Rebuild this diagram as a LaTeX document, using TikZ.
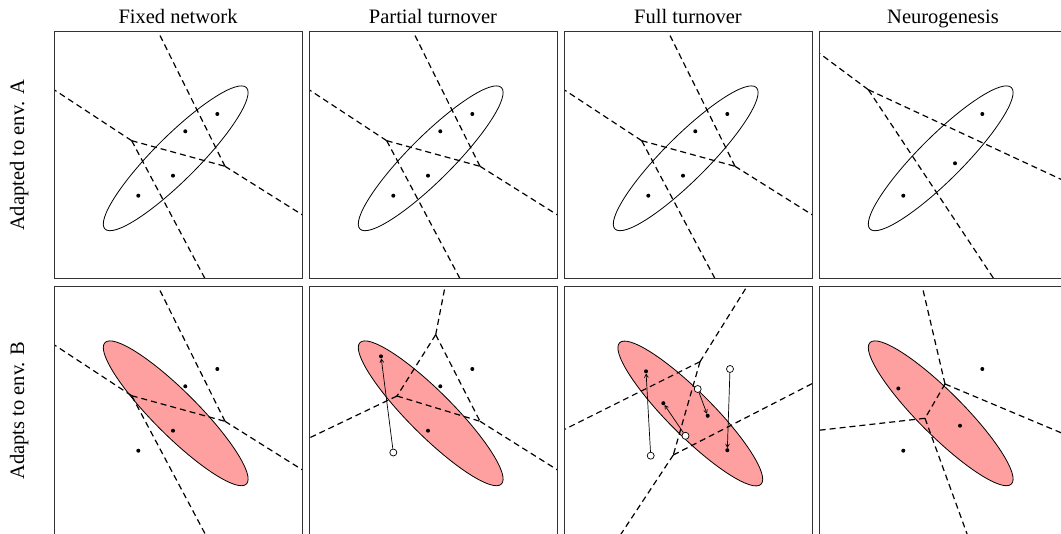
\documentclass[tikz,border=0pt]{standalone}
\usepackage{fontspec}
\setmainfont{Liberation Serif}
\usetikzlibrary{arrows.meta}
\definecolor{pinkfill}{RGB}{255,160,160}
\tikzset{
  frame/.style={draw=black!80, line width=1pt},
  vor/.style={draw=black, dash pattern=on 6pt off 4pt, line width=1.2pt},
  env/.style={draw=black, line width=0.8pt},
  envB/.style={draw=black, fill=pinkfill, line width=0.8pt},
  dot/.style={circle, fill=black, inner sep=0pt, minimum size=4pt},
  olddot/.style={circle, draw=black, fill=white, inner sep=0pt, minimum size=7pt, line width=0.7pt},
  move/.style={-{Straight Barb[length=3.4pt,width=3.8pt]}, line width=0.7pt},
  title/.style={font=\fontsize{20.5}{24}\selectfont, anchor=base, inner sep=0pt},
}
\begin{document}
\begin{tikzpicture}[x=1pt,y=-1pt]
\useasboundingbox (0,0) rectangle (1061,534);
\clip (0,0) rectangle (1061,534);

% titles
\node[title] (t1) at (178,23.3) {Fixed network};
\node[title] (t2) at (433,23.3) {Partial turnover};
\node[title] (t3) at (688,23.3) {Full turnover};
\node[title] (t4) at (943,23.3) {Neurogenesis};
\node[title, rotate=90] (l1) at (24,155.5) {Adapted to env. A};
\node[title, rotate=90] (l2) at (24,410.5) {Adapts to env. B};

% ---------- Row A, panels 1-3 (identical) ----------
\foreach \px/\nm in {54/a1,309/a2,564/a3}{
\begin{scope}[shift={(\px,32)}]
  \draw[env, rotate around={45:(121.7,126.3)}] (121.7,126.3) ellipse [x radius=100, y radius=22];
  \begin{scope}
    \clip (0,0) rectangle (248,247);
    \coordinate (\nm V1) at (171,134.3);
    \coordinate (\nm V2) at (77.7,108.7);
    \coordinate (\nm T) at (99.3,-10);
    \coordinate (\nm R) at (260,190.2);
    \coordinate (\nm L) at (-10,51.1);
    \coordinate (\nm B) at (158.1,260);
    \draw[vor] (\nm V1) -- (\nm T);
    \draw[vor] (\nm V1) -- (\nm R);
    \draw[vor] (\nm V2) -- (\nm L);
    \draw[vor] (\nm V2) -- (\nm B);
    \draw[vor] (\nm V2) -- (\nm V1);
  \end{scope}
  \node[dot] (\nm p1) at (163.3,82) {};
  \node[dot] (\nm p2) at (131.3,99.3) {};
  \node[dot] (\nm p3) at (119,143.7) {};
  \node[dot] (\nm p4) at (84.3,163.7) {};
  \draw[frame] (0,0) rectangle (248,247);
\end{scope}
}

% ---------- Row A, panel 4 ----------
\begin{scope}[shift={(819,32)}]
  \draw[env, rotate around={45:(121.7,126.3)}] (121.7,126.3) ellipse [x radius=100, y radius=22];
  \begin{scope}
    \clip (0,0) rectangle (248,247);
    \coordinate (a4W) at (49.3,57.7);
    \coordinate (a4L) at (-10,13.6);
    \coordinate (a4R) at (260,155.7);
    \coordinate (a4B) at (183.6,260);
    \draw[vor] (a4W) -- (a4L);
    \draw[vor] (a4W) -- (a4R);
    \draw[vor] (a4W) -- (a4B);
  \end{scope}
  \node[dot] (a4p1) at (163.3,82) {};
  \node[dot] (a4n) at (136,131.3) {};
  \node[dot] (a4p4) at (84.3,163.7) {};
  \draw[frame] (0,0) rectangle (248,247);
\end{scope}

% ---------- Row B, panel 1 ----------
\begin{scope}[shift={(54,287)}]
  \draw[envB, rotate around={-45:(121.7,126.3)}] (121.7,126.3) ellipse [x radius=100, y radius=22];
  \begin{scope}
    \clip (0,0) rectangle (248,247);
    \coordinate (b1V1) at (171,134.3);
    \coordinate (b1V2) at (77.7,108.7);
    \coordinate (b1T) at (99.3,-10);
    \coordinate (b1R) at (260,190.2);
    \coordinate (b1L) at (-10,51.1);
    \coordinate (b1B) at (158.1,260);
    \draw[vor] (b1V1) -- (b1T);
    \draw[vor] (b1V1) -- (b1R);
    \draw[vor] (b1V2) -- (b1L);
    \draw[vor] (b1V2) -- (b1B);
    \draw[vor] (b1V2) -- (b1V1);
  \end{scope}
  \node[dot] (b1p1) at (163.3,82) {};
  \node[dot] (b1p2) at (131.3,99.3) {};
  \node[dot] (b1p3) at (119,143.7) {};
  \node[dot] (b1p4) at (84.3,163.7) {};
  \draw[frame] (0,0) rectangle (248,248);
\end{scope}

% ---------- Row B, panel 2 ----------
\begin{scope}[shift={(309,287)}]
  \draw[envB, rotate around={-45:(121.7,126.3)}] (121.7,126.3) ellipse [x radius=100, y radius=22];
  \begin{scope}
    \clip (0,0) rectangle (248,247);
    \coordinate (b2Va) at (126.7,47.7);
    \coordinate (b2Vb) at (88,109);
    \coordinate (b2V1) at (171,134.3);
    \coordinate (b2T) at (137.9,-10);
    \coordinate (b2L) at (-10,155.9);
    \coordinate (b2R) at (260,190.2);
    \draw[vor] (b2Va) -- (b2T);
    \draw[vor] (b2Va) -- (b2V1);
    \draw[vor] (b2Va) -- (b2Vb);
    \draw[vor] (b2Vb) -- (b2V1);
    \draw[vor] (b2Vb) -- (b2L);
    \draw[vor] (b2V1) -- (b2R);
  \end{scope}
  \node[dot] (b2p1) at (163.3,82) {};
  \node[dot] (b2p2) at (131.3,99.3) {};
  \node[dot] (b2p3) at (119,143.7) {};
  \node[dot] (b2p4) at (72,69.3) {};
  \node[olddot] (b2o4) at (84.3,165.5) {};
  \draw[move] (b2o4) -- (b2p4);
  \draw[frame] (0,0) rectangle (248,248);
\end{scope}

% ---------- Row B, panel 3 ----------
\begin{scope}[shift={(564,287)}]
  \draw[envB, rotate around={-45:(126.3,126.5)}] (126.3,126.5) ellipse [x radius=100, y radius=22];
  \begin{scope}
    \clip (0,0) rectangle (248,247);
    \coordinate (b3Vc) at (136,74.7);
    \coordinate (b3Vd) at (109.3,168);
    \coordinate (b3T) at (188.9,-10);
    \coordinate (b3L) at (-10,147.7);
    \coordinate (b3R) at (260,90.5);
    \coordinate (b3B) at (48.4,260);
    \draw[vor] (b3Vc) -- (b3T);
    \draw[vor] (b3Vc) -- (b3L);
    \draw[vor] (b3Vc) -- (b3Vd);
    \draw[vor] (b3Vd) -- (b3R);
    \draw[vor] (b3Vd) -- (b3B);
  \end{scope}
  \node[dot] (b3pA) at (82,84.3) {};
  \node[dot] (b3pB) at (99.3,116.2) {};
  \node[dot] (b3pC) at (143.7,128.8) {};
  \node[dot] (b3pD) at (163.3,163.2) {};
  \node[olddot] (b3oA) at (86.7,168.7) {};
  \node[olddot] (b3oB) at (121.5,148.8) {};
  \node[olddot] (b3oC) at (133.7,102) {};
  \node[olddot] (b3oD) at (166,82) {};
  \draw[move] (b3oA) -- (b3pA);
  \draw[move] (b3oB) -- (b3pB);
  \draw[move] (b3oC) -- (b3pC);
  \draw[move] (b3oD) -- (b3pD);
  \draw[frame] (0,0) rectangle (248,248);
\end{scope}

% ---------- Row B, panel 4 ----------
\begin{scope}[shift={(819,287)}]
  \draw[envB, rotate around={-45:(121.7,126.3)}] (121.7,126.3) ellipse [x radius=100, y radius=22];
  \begin{scope}
    \clip (0,0) rectangle (248,247);
    \coordinate (b4Ve) at (126,97);
    \coordinate (b4Vf) at (106,131.3);
    \coordinate (b4T) at (101,-10);
    \coordinate (b4R) at (260,153.3);
    \coordinate (b4L) at (-10,144.4);
    \coordinate (b4B) at (152.8,260);
    \draw[vor] (b4Ve) -- (b4T);
    \draw[vor] (b4Ve) -- (b4R);
    \draw[vor] (b4Ve) -- (b4Vf);
    \draw[vor] (b4Vf) -- (b4L);
    \draw[vor] (b4Vf) -- (b4B);
  \end{scope}
  \node[dot] (b4p1) at (163.3,82) {};
  \node[dot] (b4q) at (79.3,101.5) {};
  \node[dot] (b4n) at (141,138.7) {};
  \node[dot] (b4p4) at (84.3,163.7) {};
  \draw[frame] (0,0) rectangle (248,248);
\end{scope}
\end{tikzpicture}
\end{document}
